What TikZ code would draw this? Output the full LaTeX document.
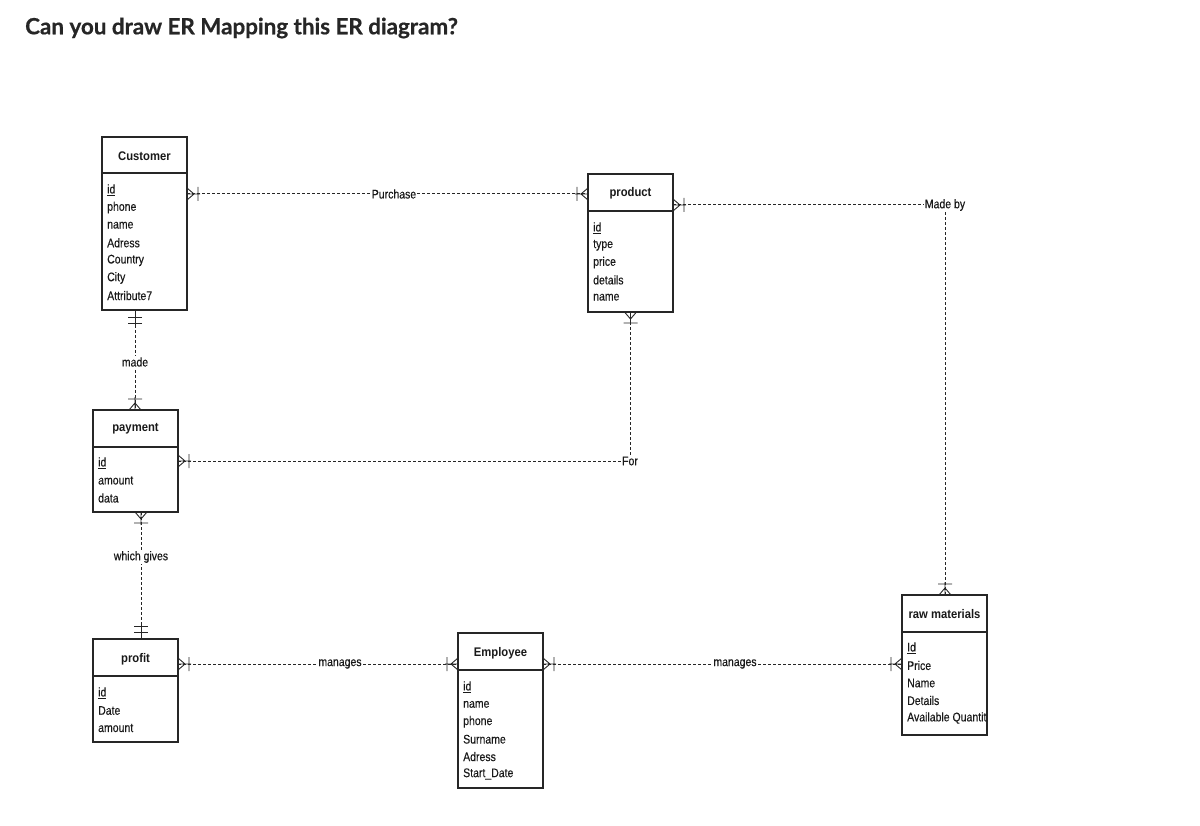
\documentclass[tikz,border=0pt]{standalone}
\usepackage{fontspec}
\setmainfont{Liberation Sans}
\newfontfamily\titlefont{Lato}[FakeBold=0.6]
\newfontfamily\attfont{Liberation Sans}[FakeStretch=0.84,FakeBold=0.3]
\newfontfamily\hdrfont{Liberation Sans}[FakeStretch=0.9]
\usetikzlibrary{backgrounds}
\tikzset{
  ent/.style={draw=black!85, line width=1.1pt, inner sep=0pt, outer sep=0pt},
  hdr/.style={font=\hdrfont\bfseries\fontsize{12.5}{14}\selectfont, inner sep=0pt, text=black!90},
  att/.style={anchor=west, font=\attfont\fontsize{12.5}{14}\selectfont, inner sep=0pt, text=black!90},
  lbl/.style={font=\attfont\fontsize{12.5}{14}\selectfont, fill=white, inner sep=1pt, text=black!90},
  rel/.style={draw=black!85, line width=1pt, dash pattern=on 3pt off 2pt},
  mk/.style={draw=black!85, line width=0.9pt},
}
\newcommand{\oneMany}[2]{\begin{scope}[shift={(#1)},rotate=#2]
  \draw[mk] (0,-6)--(7,0)--(0,6) (0,0)--(13,0) (11,-7)--(11,7);\end{scope}}
\newcommand{\oneOne}[2]{\begin{scope}[shift={(#1)},rotate=#2]
  \draw[mk] (0,0)--(16,0) (7,-7)--(7,7) (13,-7)--(13,7);\end{scope}}
\newcommand{\attrs}[6]{%
  \node[att] (#1-id) at (#2,#3) {\underline{#5}};
  \foreach \t [count=\i] in {#6} \node[att] (#1-\i) at (#2,{#3+#4*\i}) {\t};}
\begin{document}
\begin{tikzpicture}[x=1pt,y=-1pt]
\useasboundingbox (0,0) rectangle (1200,826);
\node[anchor=west, inner sep=0pt, text=black!85, font=\titlefont\bfseries\fontsize{22.4}{26}\selectfont] (title) at (25,28) {Can you draw ER Mapping this ER diagram?};

% Customer
\node[ent, minimum width=85pt, minimum height=173pt] (cust) at (144.5,223.5) {};
\draw[ent] (102,173) -- (187,173);
\node[hdr] (cust-h) at (144.5,156) {Customer};
\attrs{cust}{107}{190}{17.6}{id}{phone,name,Adress,Country,City,Attribute7}

% payment
\node[ent, minimum width=85pt, minimum height=102pt] (pay) at (135.5,461) {};
\draw[ent] (93,447) -- (178,447);
\node[hdr] (pay-h) at (135.5,429) {payment};
\attrs{pay}{98}{463}{17.5}{id}{amount,data}

% profit
\node[ent, minimum width=85pt, minimum height=103pt] (prof) at (135.5,690.5) {};
\draw[ent] (93,676) -- (178,676);
\node[hdr] (prof-h) at (135.5,659) {profit};
\attrs{prof}{98}{693}{17.5}{id}{Date,amount}

% product
\node[ent, minimum width=85pt, minimum height=138pt] (prod) at (630.5,243) {};
\draw[ent] (588,211) -- (673,211);
\node[hdr] (prod-h) at (630.5,193) {product};
\attrs{prod}{593}{228}{17.3}{id}{type,price,details,name}

% Employee
\node[ent, minimum width=85pt, minimum height=155pt] (emp) at (500.5,710.5) {};
\draw[ent] (458,670) -- (543,670);
\node[hdr] (emp-h) at (500.5,653) {Employee};
\attrs{emp}{463}{687}{17.4}{id}{name,phone,Surname,Adress,Start\_Date}

% raw materials
\node[ent, minimum width=85pt, minimum height=140pt] (raw) at (944.5,665) {};
\draw[ent] (902,632) -- (987,632);
\node[hdr] (raw-h) at (944.5,614) {raw materials};
\attrs{raw}{907}{648}{17.5}{Id}{Price,Name,Details,Available Quantit}

% relationship labels
\node[lbl] (purch) at (394,194) {Purchase};
\node[lbl] (madeby) at (945,205) {Made by};
\node[lbl] (for) at (630,461) {For};
\node[lbl] (made) at (135,362) {made};
\node[lbl] (wg) at (141,557) {which gives};
\node[lbl] (m1) at (340,664) {manages};
\node[lbl] (m2) at (735,664) {manages};

\begin{scope}[on background layer]
\draw[rel] (cust.east |- purch) -- (prod.west |- purch);
\draw[rel] (prod.east |- madeby) -- (madeby.west);
\draw[rel] (madeby.south) -- (madeby.south |- raw.north);
\draw[rel] (prod.south) -- (prod.south |- for.north);
\draw[rel] (pay.east |- for) -- (for.west);
\draw[rel] (cust.south -| made) -- (pay.north -| made);
\draw[rel] (pay.south -| wg) -- (prof.north -| wg);
\draw[rel] (prof.east |- m1) -- (emp.west |- m1);
\draw[rel] (emp.east |- m2) -- (raw.west |- m2);
\end{scope}

\oneMany{cust.east |- purch}{0}
\oneMany{prod.west |- purch}{180}
\oneMany{prod.east |- madeby}{0}
\oneMany{madeby.south |- raw.north}{90}
\oneMany{prod.south}{270}
\oneMany{pay.east |- for}{0}
\oneOne{cust.south -| made}{270}
\oneMany{pay.north -| made}{90}
\oneMany{pay.south -| wg}{270}
\oneOne{prof.north -| wg}{90}
\oneMany{prof.east |- m1}{0}
\oneMany{emp.west |- m1}{180}
\oneMany{emp.east |- m2}{0}
\oneMany{raw.west |- m2}{180}
\end{tikzpicture}
\end{document}
